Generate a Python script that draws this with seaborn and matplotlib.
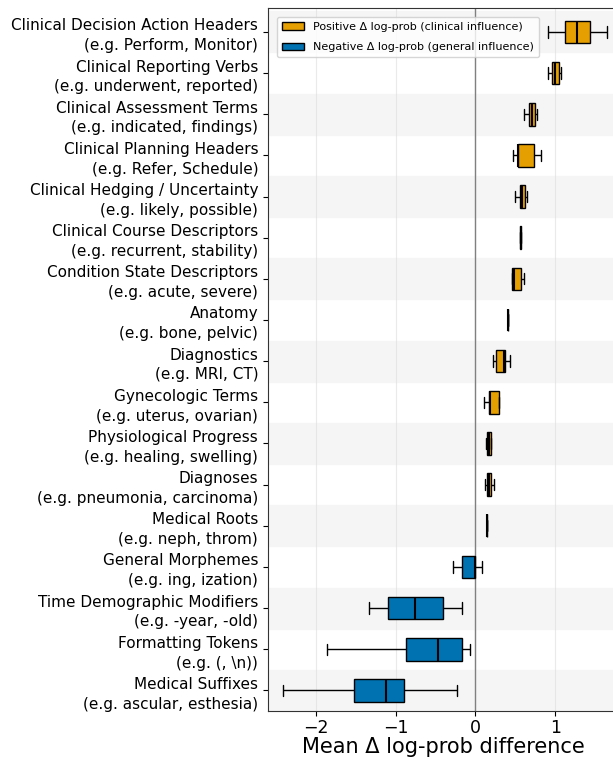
import matplotlib
matplotlib.use("Agg")
import matplotlib.pyplot as plt
import pandas as pd
import seaborn as sns
import numpy as np

# categories (top to bottom) and example tokens
categories = [
    "Clinical Decision Action Headers", "Clinical Reporting Verbs", "Clinical Assessment Terms",
    "Clinical Planning Headers", "Clinical Hedging / Uncertainty", "Clinical Course Descriptors",
    "Condition State Descriptors", "Anatomy", "Diagnostics", "Gynecologic Terms",
    "Physiological Progress", "Diagnoses", "Medical Roots", "General Morphemes",
    "Time Demographic Modifiers", "Formatting Tokens", "Medical Suffixes",
]
examples = [
    "Perform, Monitor", "underwent, reported", "indicated, findings", "Refer, Schedule",
    "likely, possible", "recurrent, stability", "acute, severe", "bone, pelvic", "MRI, CT",
    "uterus, ovarian", "healing, swelling", "pneumonia, carcinoma", "neph, throm",
    "ing, ization", "-year, -old", "(, \\n)", "ascular, esthesia",
]

# five-number summaries
lo  = [0.91, 0.91, 0.61, 0.47, 0.49, 0.562, 0.46, 0.405, 0.225, 0.11, 0.136, 0.123, 0.139, -0.276, -1.33, -1.856, -2.408]
q1  = [1.125, 0.955, 0.671, 0.527, 0.552, 0.563, 0.463, 0.406, 0.259, 0.174, 0.149, 0.14, 0.141, -0.174, -1.092, -0.866, -1.516]
med = [1.278, 1.002, 0.709, 0.539, 0.586, 0.565, 0.484, 0.408, 0.36, 0.18, 0.166, 0.166, 0.144, -0.01, -0.756, -0.475, -1.117]
q3  = [1.431, 1.049, 0.748, 0.739, 0.616, 0.567, 0.569, 0.41, 0.373, 0.289, 0.195, 0.195, 0.147, -0.004, -0.403, -0.166, -0.9]
hi  = [1.652, 1.066, 0.773, 0.824, 0.641, 0.568, 0.607, 0.411, 0.433, 0.289, 0.197, 0.229, 0.148, 0.08, -0.174, -0.064, -0.225]

pos_lab = "Positive Δ log-prob (clinical influence)"
neg_lab = "Negative Δ log-prob (general influence)"

labels = [f"{c}\n(e.g. {e})" for c, e in zip(categories, examples)]
rows = []
for i, lab in enumerate(labels):
    direction = pos_lab if med[i] > 0 else neg_lab
    for v in (lo[i], q1[i], med[i], q3[i], hi[i]):
        rows.append({"label": lab, "value": v, "direction": direction})
df = pd.DataFrame(rows)

sns.set_style("white")
plt.rcParams["text.color"] = "black"
plt.rcParams["xtick.color"] = "black"
plt.rcParams["ytick.color"] = "black"
plt.rcParams["axes.labelcolor"] = "black"

fig, ax = plt.subplots(figsize=(6.13, 7.61), dpi=100)
fig.subplots_adjust(left=0.437, right=1.01, top=0.9895, bottom=0.0657)

# alternating row shading
for i in range(0, len(labels), 2):
    ax.axhspan(i - 0.5, i + 0.5, color="#f5f5f5", zorder=0)

sns.boxplot(data=df, x="value", y="label", hue="direction", order=labels,
            hue_order=[pos_lab, neg_lab],
            palette={pos_lab: "#E69F00", neg_lab: "#0072B2"},
            saturation=1, dodge=False, width=0.55, whis=(0, 100), showfliers=False,
            linecolor="black", linewidth=1,
            medianprops=dict(color="black", linewidth=1.5), ax=ax)

ax.axvline(0, color="gray", linewidth=1, zorder=1)
ax.grid(True, axis="x", color="#dddddd", linewidth=0.8, alpha=0.6)
ax.set_axisbelow(True)
ax.set_xlim(-2.6, 1.8)
ax.set_ylim(16.5, -0.58)
ax.set_xticks([-2, -1, 0, 1])
ax.set_ylabel("")
ax.set_xlabel("Mean Δ log-prob difference", fontsize=15, labelpad=0)
ax.tick_params(axis="y", labelsize=11, left=True, length=3.5)
ax.tick_params(axis="x", labelsize=12.5, bottom=True, length=3.5, pad=2)
for t in ax.get_yticklabels():
    t.set_linespacing(1.4)
for s in ax.spines.values():
    s.set_color("#333333")
ax.legend(loc="upper left", fontsize=8.0, frameon=True, labelspacing=0.95,
          borderaxespad=0.8, borderpad=0.45)

fig.savefig("out.png", dpi=100)
